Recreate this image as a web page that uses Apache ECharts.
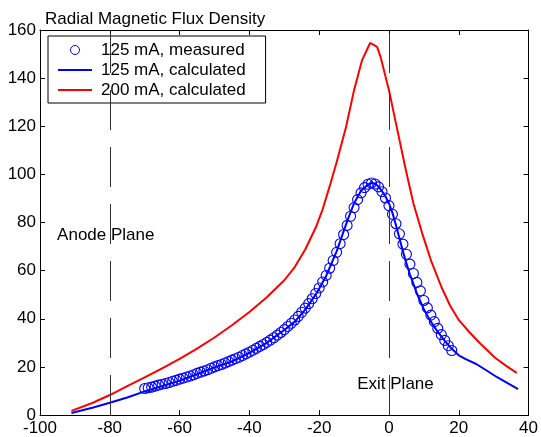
<!DOCTYPE html>
<html>
<head>
<meta charset="utf-8">
<script src="https://cdn.jsdelivr.net/npm/echarts@6/dist/echarts.min.js"></script>
<style>
  html, body { margin: 0; padding: 0; background: #fff; }
  #chart { width: 541px; height: 437px; }
</style>
</head>
<body>
<div id="chart"></div>
<script>
// Axial position (mm) and radial flux density values
const measuredX = [-70,-69,-68,-67,-66,-65,-64,-63,-62,-61,-60,-59,-58,-57,-56,-55,-54,-53,-52,-51,
  -50,-49,-48,-47,-46,-45,-44,-43,-42,-41,-40,-39,-38,-37,-36,-35,-34,-33,-32,-31,
  -30,-29,-28,-27,-26,-25,-24,-23,-22,-21,-20,-19,-18,-17,-16,-15,-14,-13,-12,-11,
  -10,-9,-8,-7,-6,-5,-4,-3,-2,-1,0,1,2,3,4,5,6,7,8,9,10,11,12,13,14,15,16,17,18];
const measuredY = [11.0,11.3,11.6,12.0,12.4,12.8,13.1,13.5,14.0,14.4,14.9,15.3,15.8,16.2,16.7,17.3,17.8,18.3,18.8,19.4,
  20.0,20.5,21.0,21.6,22.2,22.8,23.4,24.0,24.7,25.4,26.1,26.9,27.7,28.5,29.3,30.2,31.1,32.1,33.2,34.3,
  35.5,36.8,38.1,39.5,41.0,42.7,44.4,46.3,48.3,50.5,52.8,55.3,58.0,61.0,64.2,67.6,71.2,75.0,78.8,82.6,
  86.2,89.5,92.3,94.5,95.9,96.4,96.0,94.8,92.8,90.2,87.0,83.4,79.5,75.3,71.0,66.8,62.7,58.8,55.1,51.6,
  47.6,44.5,41.5,38.8,36.0,33.4,31.0,28.8,26.8];

const calc125X = [-91,-85,-80,-75,-70,-65,-60,-55,-50,-45,-40,-35,-30,-27,-24,-21,-18,-15,-12,-10,
  -8,-6,-5,-4,-3,-2,-1,0,1,2,3,4,5,6,7,8,10,12,14,16,18,20,22,25,28,31,34,37];
const calc125Y = [0.8,3.0,5.1,7.3,9.8,12.0,14.3,17.0,19.8,22.3,25.8,30.0,35.3,38.8,43.8,50.0,57.8,68.0,80.5,88.0,
  93.2,95.8,96.4,96.2,95.0,93.0,90.8,88.0,84.0,79.0,73.5,68.0,63.0,58.5,54.5,50.5,44.0,38.8,34.5,30.8,27.5,24.8,23.2,21.2,18.5,15.7,13.2,10.8];

const calc200X = [-91,-85,-80,-75,-70,-65,-60,-55,-50,-45,-40,-35,-30,-27,-24,-21,-19,-17,-15,-12.3,
  -10,-7.7,-5.4,-3.4,-2.4,0,2.4,4.8,7,9.5,12,15,17.5,20,23,26,30.5,33.5,36.6];
const calc200Y = [1.7,5.0,8.3,12.0,15.6,19.4,23.3,27.6,32.2,37.3,42.8,48.9,56.0,61.5,68.8,77.8,85.5,95.0,105.0,119.7,
  135.0,147.5,154.6,153.0,148.8,135.0,118.5,102.0,88.0,75.6,64.4,53.3,45.5,39.5,34.5,29.9,23.7,20.5,17.5];

// Reference planes (axial position, mm)
const planeX = [-80, 0];
const planeLabels = [
  { text: 'Anode Plane', x: -95.1, y: 74.5 },
  { text: 'Exit Plane', x: -9.1, y: 12.9 }
];

const seriesNames = ['125 mA, measured', '125 mA, calculated', '200 mA, calculated'];

const zip = (xs, ys) => xs.map((x, i) => [x, ys[i]]);

const FONT = 'Liberation Sans, Arial, sans-serif';
const FS = 17;
const LINE_ICON = 'path://M0,0H34V2H0Z';

const chart = echarts.init(document.getElementById('chart'), null, { renderer: 'canvas' });

const boxAxis = {
  axisLine: { show: true, onZero: false, lineStyle: { color: '#000', width: 1 } },
  axisTick: { show: true, inside: true, length: 5, lineStyle: { color: '#000' } },
  splitLine: { show: false }
};

chart.setOption({
  animation: false,
  backgroundColor: '#fff',
  textStyle: { fontFamily: FONT },
  title: {
    text: 'Radial Magnetic Flux Density',
    left: 40, top: 6,
    textStyle: { fontFamily: FONT, fontSize: FS, fontWeight: 'normal', color: '#000' }
  },
  grid: { left: 40, right: 11, top: 30, bottom: 22, containLabel: false },
  legend: {
    orient: 'vertical',
    left: 48, top: 36,
    backgroundColor: '#fff',
    borderColor: '#000', borderWidth: 1, borderRadius: 0,
    padding: [4, 20, 3, 10],
    itemWidth: 34, itemHeight: 9, itemGap: 0,
    symbolKeepAspect: true,
    textStyle: { fontFamily: FONT, fontSize: FS, color: '#000', lineHeight: 20, padding: [0, 0, 0, 4] },
    data: [
      { name: seriesNames[0], icon: 'circle', itemStyle: { color: 'rgba(0,0,0,0)', borderColor: '#0000ff', borderWidth: 1 } },
      { name: seriesNames[1], icon: LINE_ICON, itemStyle: { color: '#0000ff', borderWidth: 0 } },
      { name: seriesNames[2], icon: LINE_ICON, itemStyle: { color: '#ff0000', borderWidth: 0 } }
    ]
  },
  xAxis: [
    Object.assign({
      type: 'value', position: 'bottom', min: -100, max: 40, interval: 20,
      axisLabel: { color: '#000', fontFamily: FONT, fontSize: FS, margin: 5 }
    }, boxAxis),
    Object.assign({
      type: 'value', position: 'top', min: -100, max: 40, interval: 20,
      axisLabel: { show: false }
    }, boxAxis)
  ],
  yAxis: [
    Object.assign({
      type: 'value', position: 'left', min: 0, max: 160, interval: 20,
      axisLabel: { color: '#000', fontFamily: FONT, fontSize: FS, margin: 4 }
    }, boxAxis),
    Object.assign({
      type: 'value', position: 'right', min: 0, max: 160, interval: 20,
      axisLabel: { show: false }
    }, boxAxis)
  ],
  series: [
    {
      name: seriesNames[0],
      type: 'scatter',
      data: zip(measuredX, measuredY),
      symbol: 'circle',
      symbolSize: 10,
      itemStyle: { color: 'rgba(0,0,0,0)', borderColor: '#0000ff', borderWidth: 1.1, opacity: 1 },
      z: 2,
      markLine: {
        silent: true,
        symbol: 'none',
        label: { show: false },
        lineStyle: { color: '#333', width: 1, type: [40, 17] },
        data: planeX.map(v => ({ xAxis: v }))
      }
    },
    {
      name: seriesNames[1],
      type: 'line',
      data: zip(calc125X, calc125Y),
      symbol: 'none',
      lineStyle: { color: '#0000ff', width: 2 },
      itemStyle: { color: '#0000ff' },
      z: 3
    },
    {
      name: seriesNames[2],
      type: 'line',
      data: zip(calc200X, calc200Y),
      symbol: 'none',
      lineStyle: { color: '#ff0000', width: 2 },
      itemStyle: { color: '#ff0000' },
      z: 3
    }
  ]
});

// Plane captions anchored to data coordinates
chart.setOption({
  graphic: planeLabels.map(p => {
    const pt = chart.convertToPixel({ xAxisIndex: 0, yAxisIndex: 0 }, [p.x, p.y]);
    return {
      type: 'text',
      x: pt[0], y: pt[1],
      z: 10,
      style: {
        text: p.text, fill: '#000',
        font: FS + 'px ' + FONT,
        textAlign: 'left', textVerticalAlign: 'middle'
      }
    };
  })
});
</script>
</body>
</html>
